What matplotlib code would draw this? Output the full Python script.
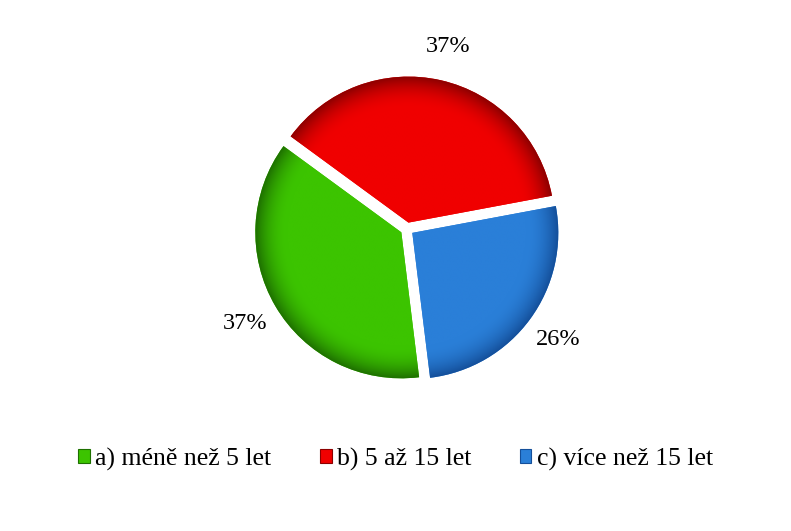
import numpy as np
import matplotlib.pyplot as plt
from matplotlib.patches import Patch
from matplotlib.colors import to_rgb

labels = ['a) méně než 5 let', 'b) 5 až 15 let', 'c) více než 15 let']
values = [37, 37, 26]
colors = ['#3cc400', '#f00000', '#2a7fd8']
dark = ['#1e7000', '#8c0000', '#144f9a']

plt.rcParams['font.family'] = ['Liberation Serif', 'DejaVu Serif']

fig = plt.figure(figsize=(7.91, 5.31), dpi=100)
W, H = 791, 531
cx, cy, R = 407, 531 - 229, 146
ax = fig.add_axes([(cx - 300) / W, (cy - 200) / H, 600 / W, 400 / H])

wedges, texts, autotexts = ax.pie(
    values, colors=colors, startangle=-83, counterclock=False,
    explode=[0.045] * 3, autopct='%1.0f%%', pctdistance=1.24,
    wedgeprops=dict(linewidth=0), textprops=dict(fontsize=17.5))

# bevel-like shading clipped to each wedge
xs = np.linspace(-1.3, 1.3, 500)
X, Y = np.meshgrid(xs, xs)
for w, c, d in zip(wedges, colors, dark):
    ox, oy = w.center
    r = np.hypot(X - ox, Y - oy)
    t = np.clip((r - 0.78) / 0.22, 0, 1) ** 2
    c1 = np.array(to_rgb(c))
    c2 = np.array(to_rgb(d))
    img = c1[None, None, :] * (1 - t[..., None]) + c2[None, None, :] * t[..., None]
    im = ax.imshow(img, extent=(-1.3, 1.3, -1.3, 1.3), origin='lower',
                   interpolation='bilinear', zorder=w.get_zorder() + 0.1)
    im.set_clip_path(w)

ax.set_aspect('equal')
ax.set_xlim(-300 / R, 300 / R)
ax.set_ylim(-200 / R, 200 / R)
ax.axis('off')

handles = [Patch(facecolor=c, edgecolor=d, linewidth=0.8) for c, d in zip(colors, dark)]
fig.legend(handles, labels, loc='center', bbox_to_anchor=(0.5, 1 - 459 / H),
           ncol=3, frameon=False, fontsize=18.5, handlelength=0.45,
           handleheight=0.45, handletextpad=0.2, columnspacing=1.9)

fig.savefig('out.png', dpi=100)
